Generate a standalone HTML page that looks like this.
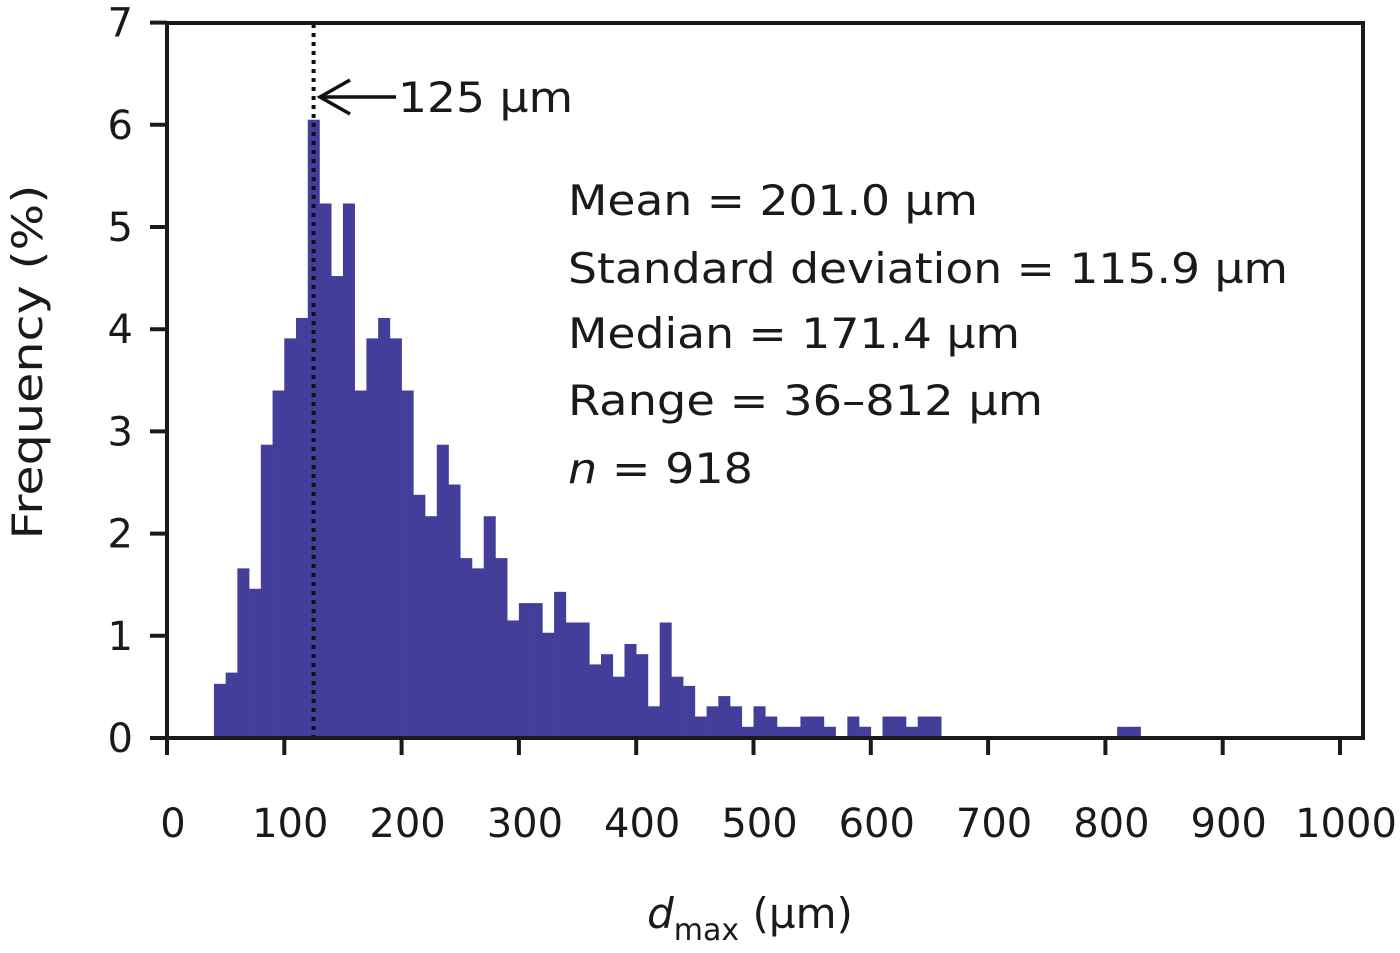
<!DOCTYPE html>
<html><head><meta charset="utf-8"><style>
body{margin:0;background:#fff}
svg text{font-family:"DejaVu Sans","Liberation Sans",sans-serif;fill:#1a1a1a}
</style></head><body>
<svg id="chart" width="1400" height="948" viewBox="0 0 1400 948" xmlns="http://www.w3.org/2000/svg">
<g id="bars"></g>
<line x1="313.6" y1="24" x2="313.6" y2="736" stroke="#111" stroke-width="4" stroke-dasharray="4,5"/>
<rect x="167" y="23" width="1196" height="715" fill="none" stroke="#1a1a1a" stroke-width="4"/>
<g id="axes"></g>
<g>
<line x1="322" y1="97" x2="396" y2="97" stroke="#111" stroke-width="3.5"/>
<polyline points="350,80 320,97 350,114" fill="none" stroke="#111" stroke-width="3.5"/>
<text x="398" y="112" font-size="42" textLength="175" lengthAdjust="spacingAndGlyphs">125 µm</text>
</g>
<g font-size="42">
<text x="568" y="215" textLength="410" lengthAdjust="spacingAndGlyphs">Mean = 201.0 µm</text>
<text x="568" y="283" textLength="720" lengthAdjust="spacingAndGlyphs">Standard deviation = 115.9 µm</text>
<text x="568" y="348" textLength="452" lengthAdjust="spacingAndGlyphs">Median = 171.4 µm</text>
<text x="568" y="415" textLength="475" lengthAdjust="spacingAndGlyphs">Range = 36–812 µm</text>
<text x="568" y="483" textLength="185" lengthAdjust="spacingAndGlyphs"><tspan font-style="italic">n</tspan> = 918</text>
</g>
<text font-size="42" transform="translate(42,362) rotate(-90)" text-anchor="middle" textLength="355" lengthAdjust="spacingAndGlyphs">Frequency (%)</text>
<text font-size="42" x="750" y="928" text-anchor="middle"><tspan font-style="italic">d</tspan><tspan font-size="30" dy="12">max</tspan><tspan dy="-12"> (µm)</tspan></text>
</svg>
<script>
const binStarts = [40,50,60,70,80,90,100,110,120,130,140,150,160,170,180,190,200,210,220,230,240,250,260,270,280,290,300,310,320,330,340,350,360,370,380,390,400,410,420,430,440,450,460,470,480,490,500,510,520,530,540,550,560,570,580,590,600,610,620,630,640,650,810,820];
const frequencies = [0.53,0.64,1.66,1.46,2.87,3.40,3.91,4.11,6.05,5.23,4.52,5.23,3.40,3.91,4.11,3.91,3.40,2.38,2.17,2.87,2.48,1.76,1.66,2.17,1.76,1.15,1.32,1.32,1.03,1.43,1.13,1.13,0.72,0.82,0.60,0.92,0.82,0.31,1.13,0.60,0.51,0.21,0.31,0.41,0.31,0.11,0.31,0.21,0.11,0.11,0.21,0.21,0.11,0,0.21,0.11,0,0.21,0.21,0.11,0.21,0.21,0.11,0.11];
const binWidth = 10;
const xTicks = [0,100,200,300,400,500,600,700,800,900,1000];
const yTicks = [0,1,2,3,4,5,6,7];
const X = v => 167 + v * 1.173;
const Y = v => 738 - v * 102.2;
const NS = "http://www.w3.org/2000/svg";
const bars = document.getElementById('bars');
binStarts.forEach((b, i) => {
  const r = document.createElementNS(NS, 'rect');
  
  
  r.setAttribute('x', X(b));
  r.setAttribute('width', X(b + binWidth) - X(b) + 0.3);
  r.setAttribute('y', Y(frequencies[i]));
  r.setAttribute('height', Y(0) - Y(frequencies[i]));
  r.setAttribute('fill', '#423e9a');
  bars.appendChild(r);
});
const axes = document.getElementById('axes');
xTicks.forEach(t => {
  const l = document.createElementNS(NS, 'line');
  
  
  l.setAttribute('x1', X(t)); l.setAttribute('x2', X(t));
  l.setAttribute('y1', 738); l.setAttribute('y2', 755);
  l.setAttribute('stroke', '#1a1a1a'); l.setAttribute('stroke-width', 4);
  axes.appendChild(l);
  const tx = document.createElementNS(NS, 'text');
  
  
  tx.setAttribute('x', X(t) + 6); tx.setAttribute('y', 837);
  tx.setAttribute('text-anchor', 'middle'); tx.setAttribute('font-size', 40);
  tx.textContent = t;
  axes.appendChild(tx);
});
yTicks.forEach(t => {
  const l = document.createElementNS(NS, 'line');
  
  
  l.setAttribute('x1', 150); l.setAttribute('x2', 167);
  l.setAttribute('y1', Y(t)); l.setAttribute('y2', Y(t));
  l.setAttribute('stroke', '#1a1a1a'); l.setAttribute('stroke-width', 4);
  axes.appendChild(l);
  const tx = document.createElementNS(NS, 'text');
  
  
  tx.setAttribute('x', 133); tx.setAttribute('y', Y(t) + 14);
  tx.setAttribute('text-anchor', 'end'); tx.setAttribute('font-size', 40);
  tx.textContent = t;
  axes.appendChild(tx);
});
</script>
</body></html>
